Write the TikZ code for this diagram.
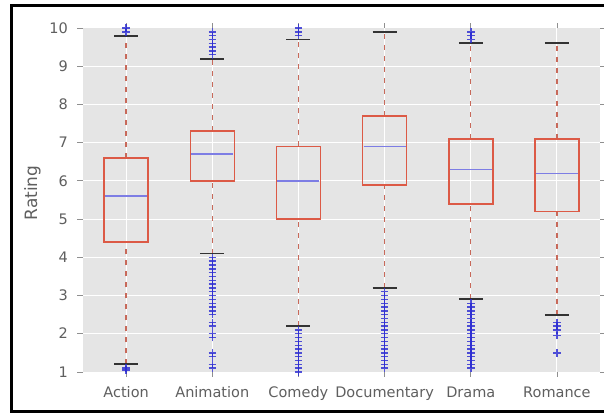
\documentclass[tikz,border=0pt]{standalone}
\usepackage{fontspec}
\setmainfont{DejaVu Sans}
\definecolor{panelgray}{RGB}{229,229,229}
\definecolor{ticktext}{RGB}{95,95,95}
\definecolor{boxred}{RGB}{220,90,70}
\definecolor{whiskred}{RGB}{200,105,90}
\definecolor{medblue}{RGB}{125,125,228}
\definecolor{flierblue}{RGB}{40,40,210}
\newcommand\bxp[6]{% x, lower cap, q1, median, q3, upper cap
  \draw[whisk] (#1,#2) -- (#1,#3);
  \draw[whisk] (#1,#5) -- (#1,#6);
  \draw[boxedge] (#1-22,#3) rectangle (#1+22,#5);
  \draw[medline] (#1-21,#4) -- (#1+21,#4);
  \draw[capline] (#1-12,#2) -- (#1+12,#2);
  \draw[capline] (#1-12,#6) -- (#1+12,#6);
}
\newcommand\flr[2]{% one '+' outlier marker
  \draw[flierst] (#1,#2) ++(-3.8pt,0pt) -- ++(7.6pt,0pt)
                 (#1,#2) ++(0pt,-3.8pt) -- ++(0pt,7.6pt);
}
\begin{document}
\begin{tikzpicture}[x=1pt,y=1pt,
  frame/.style={line width=3pt,black},
  gridline/.style={white,line width=1pt},
  tickmark/.style={ticktext!70,line width=0.8pt},
  ticklab/.style={text=ticktext,font=\fontsize{14.5}{16}\selectfont,inner sep=0pt},
  axlab/.style={text=ticktext,font=\fontsize{17}{19}\selectfont,inner sep=0pt},
  whisk/.style={whiskred,line width=1.3pt,dash pattern=on 5pt off 6pt},
  boxedge/.style={boxred,line width=1.6pt},
  medline/.style={medblue,line width=1.4pt},
  capline/.style={black!80,line width=1.9pt},
  flierst/.style={flierblue,line width=1.4pt,opacity=0.8}]
\useasboundingbox (0,0) rectangle (604,415);
\fill[white] (0,0) rectangle (604,415);
% outer frame, open on the right
\draw[frame] (604,409) -- (11,409) -- (11,3.5) -- (604,3.5);

\begin{scope}[yshift=4.78pt,y=38.22pt]
  % panel and grid
  \fill[panelgray] (83,1) rectangle (600,10);
  \foreach \v in {2,...,9} {\draw[gridline] (83,\v) -- (600,\v);}
  \foreach \cx in {126.1,212.3,298.4,384.6,470.8,556.9}{
    \draw[gridline] (\cx,1) -- (\cx,10);
    \draw[tickmark] (\cx,10) -- ++(0pt,5pt);
    \draw[tickmark] (\cx,1) -- ++(0pt,-5pt);
  }
  % y ticks and labels
  \foreach \v in {1,...,10}{
    \draw[tickmark] (83,\v) -- ++(-6pt,0pt);
    \draw[tickmark] (600,\v) -- ++(6pt,0pt);
    \node[ticklab,anchor=base east] (ytick\v) at ([yshift=-5.2pt]68,\v) {\v};
  }

  % boxes
  \bxp{126.1}{1.2}{4.4}{5.6}{6.6}{9.8}
  \bxp{212.3}{4.1}{6.0}{6.7}{7.3}{9.2}
  \bxp{298.4}{2.2}{5.0}{6.0}{6.9}{9.7}
  \bxp{384.6}{3.2}{5.9}{6.9}{7.7}{9.9}
  \bxp{470.8}{2.9}{5.4}{6.3}{7.1}{9.6}
  \bxp{556.9}{2.5}{5.2}{6.2}{7.1}{9.6}

  % outliers
  \foreach \v in {1.05,1.1,9.9,10.0} {\flr{126.1}{\v}}
  \foreach \v in {1.1,1.2,1.4,1.5,1.9,2.0,2.2,2.3,2.5,2.6,2.7,2.8,2.9,3.0,3.1,3.2,3.3,3.4,3.5,3.6,3.7,3.8,3.9,4.0,9.3,9.4,9.5,9.6,9.7,9.8,9.9}
    {\flr{212.3}{\v}}
  \foreach \v in {1.0,1.1,...,2.15} {\flr{298.4}{\v}}
  \foreach \v in {9.8,9.9,10.0} {\flr{298.4}{\v}}
  \foreach \v in {1.1,1.2,...,3.15} {\flr{384.6}{\v}}
  \foreach \v in {1.1,1.2,...,2.85} {\flr{470.8}{\v}}
  \foreach \v in {9.7,9.8,9.9} {\flr{470.8}{\v}}
  \foreach \v in {1.5,1.95,2.1,2.2,2.3} {\flr{556.9}{\v}}
\end{scope}

% category labels
\node[ticklab,anchor=base] (cAction) at (126.1,18) {Action};
\node[ticklab,anchor=base] (cAnimation) at (212.3,18) {Animation};
\node[ticklab,anchor=base] (cComedy) at (298.4,18) {Comedy};
\node[ticklab,anchor=base] (cDocumentary) at (384.6,18) {Documentary};
\node[ticklab,anchor=base] (cDrama) at (470.8,18) {Drama};
\node[ticklab,anchor=base] (cRomance) at (556.9,18) {Romance};

% axis title
\node[axlab,anchor=base,rotate=90] (ylabel) at (37,222) {Rating};
\end{tikzpicture}
\end{document}
